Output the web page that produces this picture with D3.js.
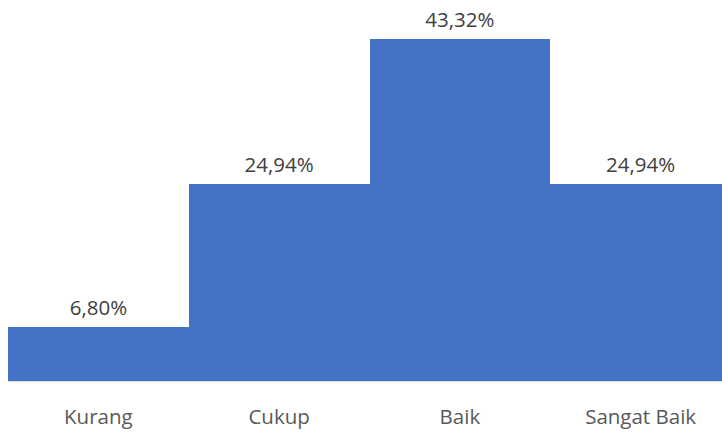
<!DOCTYPE html>
<html><head><meta charset="utf-8">
<script src="https://cdn.jsdelivr.net/npm/d3@7"></script>
<style>body{margin:0;background:#fff;overflow:hidden}</style>
</head><body>
<svg id="c" width="722" height="432"></svg>
<script>
const categories = ["Kurang", "Cukup", "Baik", "Sangat Baik"];
const values = [6.80, 24.94, 43.32, 24.94];
const valueLabels = ["6,80%", "24,94%", "43,32%", "24,94%"];

(function () {
const svg = d3.select("#c");
const mLeft = 8, mRight = 731, mBase = 381, mTop = 39;
const x = d3.scaleBand().domain(categories).range([mLeft, mRight]).padding(0);
const y = d3.scaleLinear().domain([0, 43.32]).range([mBase, mTop]);
const font = "'Open Sans', 'Noto Sans', sans-serif";

svg.selectAll("rect.bar").data(values).enter().append("rect")
  .attr("class", "bar")
  .attr("x", (d, i) => Math.round(x(categories[i])))
  .attr("width", (d, i) => Math.round(x(categories[i]) + x.bandwidth()) - Math.round(x(categories[i])))
  .attr("y", d => Math.round(y(d)))
  .attr("height", d => mBase - Math.round(y(d)))
  .attr("fill", "#4472C4")
  .attr("shape-rendering", "crispEdges");

svg.append("line").attr("x1", mLeft).attr("x2", mRight).attr("y1", mBase + 0.5).attr("y2", mBase + 0.5)
  .attr("stroke", "#D9D9D9").attr("stroke-width", 1);

svg.selectAll("text.val").data(values).enter().append("text")
  .attr("class", "val")
  .attr("x", (d, i) => x(categories[i]) + x.bandwidth() / 2)
  .attr("y", d => y(d) - 12)
  .attr("text-anchor", "middle")
  .attr("font-family", font).attr("font-size", 20.5).attr("fill", "#404040")
  .text((d, i) => valueLabels[i]);

svg.selectAll("text.cat").data(categories).enter().append("text")
  .attr("class", "cat")
  .attr("x", d => x(d) + x.bandwidth() / 2)
  .attr("y", 424)
  .attr("text-anchor", "middle")
  .attr("font-family", font).attr("font-size", 20.5).attr("fill", "#595959")
  .text(d => d);
})();
</script>
</body></html>
